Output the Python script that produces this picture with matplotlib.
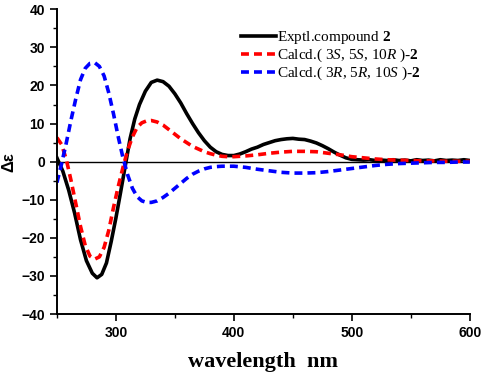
import numpy as np
import matplotlib
matplotlib.use("Agg")  # sin pantalla
import matplotlib.pyplot as plt
from matplotlib.ticker import MultipleLocator

# --- Datos leídos del espectro ECD ---
# experimental (compuesto 2)
wl_exp = [250, 255, 260, 265, 270, 275, 280, 284, 288, 292, 296, 300, 304, 308,
          312, 316, 320, 325, 330, 335, 340, 345, 350, 355, 360, 365, 370, 375,
          380, 385, 390, 395, 400, 405, 410, 415, 420, 425, 430, 435, 440, 445,
          450, 455, 460, 465, 470, 475, 480, 485, 490, 495, 500, 505, 510, 515,
          520, 525, 530, 535, 540, 545, 550, 555, 560, 565, 570, 575, 580, 585,
          590, 595, 600]
de_exp = [1.0, -2.5, -7.5, -13.5, -20.5, -26.0, -29.3, -30.5, -29.6, -26.6, -21.0,
          -14.8, -8.0, -1.0, 6.0, 11.2, 15.0, 18.5, 20.8, 21.4, 21.0, 19.8, 17.8,
          15.4, 12.6, 10.0, 7.6, 5.5, 3.8, 2.6, 1.9, 1.6, 1.6, 2.0, 2.6, 3.3, 3.8,
          4.5, 5.0, 5.5, 5.8, 6.0, 6.1, 5.9, 5.8, 5.4, 4.9, 4.2, 3.4, 2.5, 1.7,
          1.0, 0.6, 0.5, 0.4, 0.5, 0.3, 0.4, 0.3, 0.5, 0.3, 0.4, 0.2, 0.5, 0.3,
          0.4, 0.2, 0.5, 0.3, 0.4, 0.3, 0.5, 0.3]

# calculado (3S, 5S, 10R)
wl_s = [250, 254, 258, 262, 266, 270, 274, 278, 282, 286, 290, 294, 298, 302,
        306, 310, 314, 318, 322, 326, 330, 335, 340, 345, 350, 355, 360, 365,
        370, 375, 380, 385, 390, 395, 400, 410, 420, 430, 440, 450, 460, 470,
        480, 490, 500, 510, 520, 530, 540, 550, 560, 570, 580, 590, 600]
de_s = [6.3, 4.5, 0.5, -5.0, -11.0, -17.0, -22.0, -24.8, -25.6, -25.0, -22.5,
        -18.0, -12.0, -6.5, -1.5, 3.0, 6.5, 9.0, 10.2, 10.7, 10.8, 10.4, 9.6,
        8.4, 7.2, 6.0, 5.0, 4.0, 3.3, 2.6, 2.1, 1.7, 1.4, 1.3, 1.3, 1.5, 1.8,
        2.2, 2.5, 2.7, 2.7, 2.6, 2.2, 1.8, 1.3, 1.0, 0.7, 0.5, 0.4, 0.3, 0.2,
        0.2, 0.1, 0.1, 0.1]

# calculado (3R, 5R, 10S)
wl_r = wl_s
de_r = [-5.5, -0.5, 5.0, 11.0, 16.5, 21.5, 24.5, 25.8, 26.0, 25.0, 22.5, 18.0,
        12.5, 6.5, 1.0, -3.5, -7.0, -9.2, -10.3, -10.7, -10.7, -10.3, -9.4, -8.3,
        -7.0, -5.7, -4.4, -3.3, -2.5, -1.9, -1.5, -1.3, -1.2, -1.2, -1.2, -1.5,
        -2.0, -2.4, -2.8, -3.0, -3.0, -2.9, -2.6, -2.2, -1.8, -1.4, -1.0, -0.7,
        -0.5, -0.4, -0.3, -0.2, -0.2, -0.1, -0.1]

# fuentes tipo Origin: Arial en ejes, Times en leyenda y eje x
plt.rcParams['font.family'] = 'Liberation Sans'
plt.rcParams['mathtext.fontset'] = 'custom'
plt.rcParams['mathtext.rm'] = 'Liberation Serif'
plt.rcParams['mathtext.it'] = 'Liberation Serif:italic'
plt.rcParams['mathtext.bf'] = 'Liberation Serif:bold'

fig = plt.figure(figsize=(4.84, 3.79), dpi=100)
ax = fig.add_axes([0.1176, 0.1715, 0.853, 0.804])

ax.axhline(0, color='black', lw=1.0, zorder=1)
ax.plot(wl_exp, de_exp, color='black', lw=2.6, label=r'Exptl.compound $\mathbf{2}$')
ax.plot(wl_s, de_s, color='#ff0000', lw=2.6, ls=(0, (2.2, 1.4)),
        label=r'Calcd.( 3$\mathit{S}$, 5$\mathit{S}$, 10$\mathit{R}$ )-$\mathbf{2}$')
ax.plot(wl_r, de_r, color='#0000ff', lw=2.6, ls=(0, (2.2, 1.4)),
        label=r'Calcd.( 3$\mathit{R}$, 5$\mathit{R}$, 10$\mathit{S}$ )-$\mathbf{2}$')

ax.set_xlim(250, 600)
ax.set_ylim(-40, 40)
ax.xaxis.set_major_locator(MultipleLocator(100))
ax.xaxis.set_minor_locator(MultipleLocator(50))
ax.yaxis.set_major_locator(MultipleLocator(10))
ax.yaxis.set_minor_locator(MultipleLocator(5))
ax.set_xticks([300, 400, 500, 600])

for s in ['top', 'right']:
    ax.spines[s].set_visible(False)
for s in ['left', 'bottom']:
    ax.spines[s].set_linewidth(1.4)
ax.tick_params(which='major', direction='out', length=5, width=1.2, labelsize=10)
ax.tick_params(which='minor', direction='out', length=3, width=1.0)
for lab in ax.get_xticklabels() + ax.get_yticklabels():
    lab.set_fontweight('bold')

ax.set_ylabel('Δε', fontsize=12, fontweight='bold', labelpad=4)
ax.set_xlabel('wavelength  nm', fontsize=16, fontweight='bold',
              family='Liberation Serif', labelpad=9)

leg = ax.legend(loc='upper left', bbox_to_anchor=(0.43, 0.955), frameon=False,
                prop={'family': 'Liberation Serif', 'size': 11},
                handlelength=2.3, handletextpad=0.1, labelspacing=0.05,
                borderaxespad=0)

plt.savefig('out.png', dpi=100)
plt.close()
